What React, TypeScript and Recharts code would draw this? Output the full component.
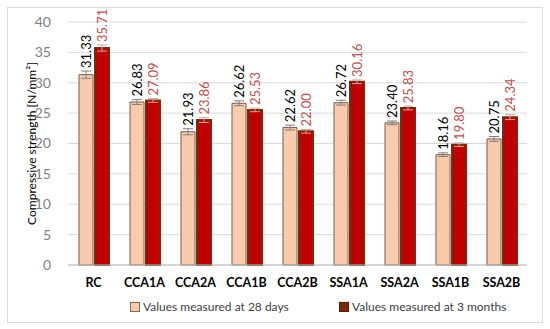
import { BarChart, Bar, XAxis, YAxis, CartesianGrid, ErrorBar, LabelList } from 'recharts';

const categories = ['RC', 'CCA1A', 'CCA2A', 'CCA1B', 'CCA2B', 'SSA1A', 'SSA2A', 'SSA1B', 'SSA2B'];
const days28 = [31.33, 26.83, 21.93, 26.62, 22.62, 26.72, 23.4, 18.16, 20.75];
const months3 = [35.71, 27.09, 23.86, 25.53, 22.0, 30.16, 25.83, 19.8, 24.34];
const err28 = [0.6, 0.4, 0.5, 0.4, 0.4, 0.4, 0.3, 0.3, 0.4];
const err3 = [0.5, 0.3, 0.4, 0.3, 0.3, 0.3, 0.3, 0.3, 0.4];
const yTicks = [0, 5, 10, 15, 20, 25, 30, 35, 40];

const data = categories.map((name, i) => ({
  name,
  d28: days28[i],
  m3: months3[i],
  e28: err28[i],
  e3: err3[i],
}));

const FONT = 'Lato, "Open Sans", sans-serif';

const makeLabel = (color: string, errs: number[]) => (props: any) => {
  const { x, y, width, value, index } = props;
  const cx = x + width / 2;
  const top = y - errs[index] * 6.1 - 3;
  return (
    <text
      x={cx}
      y={top}
      transform={`rotate(-90 ${cx} ${top})`}
      textAnchor="start"
      dominantBaseline="central"
      fill={color}
      fontSize={13}
      fontFamily={FONT}
    >
      {value.toFixed(2)}
    </text>
  );
};

const swatch = (bg: string, border: string) => (
  <span style={{ width: 8, height: 8, background: bg, border: `1px solid ${border}`, marginRight: 3, display: 'inline-block' }} />
);

export default function App() {
  return (
    <div style={{ position: 'absolute', left: 0, top: 0, width: 550, height: 329, background: '#fff' }}>
      <div
        style={{
          position: 'absolute',
          left: 7,
          top: 7,
          width: 534,
          height: 314,
          border: '1px solid #d9d9d9',
        }}
      />
      <BarChart
        width={550}
        height={329}
        data={data}
        margin={{ top: 22, right: 23, left: 0, bottom: 34 }}
        barSize={14}
        barGap={2}
        style={{ position: 'absolute', left: 0, top: 0 }}
      >
        <CartesianGrid vertical={false} stroke="#d9d9d9" />
        <XAxis
          dataKey="name"
          height={30}
          axisLine={{ stroke: '#bfbfbf' }}
          tickLine={false}
          tick={{ fill: '#000', fontSize: 12.5, fontWeight: 'bold', fontFamily: FONT }}
          tickMargin={7}
          interval={0}
        />
        <YAxis
          width={68}
          domain={[0, 40]}
          ticks={yTicks}
          axisLine={false}
          tickLine={false}
          tick={{ fill: '#7f7f7f', fontSize: 14, fontFamily: FONT }}
          tickMargin={11}
          label={{
            value: 'Compressive strength [N/mm²]',
            angle: -90,
            position: 'insideLeft',
            offset: 32,
            style: { textAnchor: 'middle', fill: '#000', fontSize: 12, fontFamily: FONT },
          }}
        />
        <Bar dataKey="d28" fill="#F8CBAD" stroke="#7d5a44" strokeWidth={1} isAnimationActive={false}>
          <ErrorBar dataKey="e28" width={5} stroke="#7f7f7f" strokeWidth={1} direction="y" />
          <LabelList dataKey="d28" content={makeLabel('#000', err28)} />
        </Bar>
        <Bar dataKey="m3" fill="#C00000" stroke="#7B2A0E" strokeWidth={2} isAnimationActive={false}>
          <ErrorBar dataKey="e3" width={5} stroke="#d9a0a0" strokeWidth={1} direction="y" />
          <LabelList dataKey="m3" content={makeLabel('#C0504D', err3)} />
        </Bar>
      </BarChart>
      <div style={{ position: 'absolute', left: 0, top: 299, width: 550, fontFamily: FONT, fontSize: 12, color: '#404040' }}>
        <span style={{ position: 'absolute', left: 130, display: 'flex', alignItems: 'center', whiteSpace: 'nowrap' }}>
          {swatch('#F8CBAD', '#8c6a50')}
          Values measured at 28 days
        </span>
        <span style={{ position: 'absolute', left: 339, display: 'flex', alignItems: 'center', whiteSpace: 'nowrap' }}>
          {swatch('#7B2A0E', '#5a1e08')}
          Values measured at 3 months
        </span>
      </div>
    </div>
  );
}
